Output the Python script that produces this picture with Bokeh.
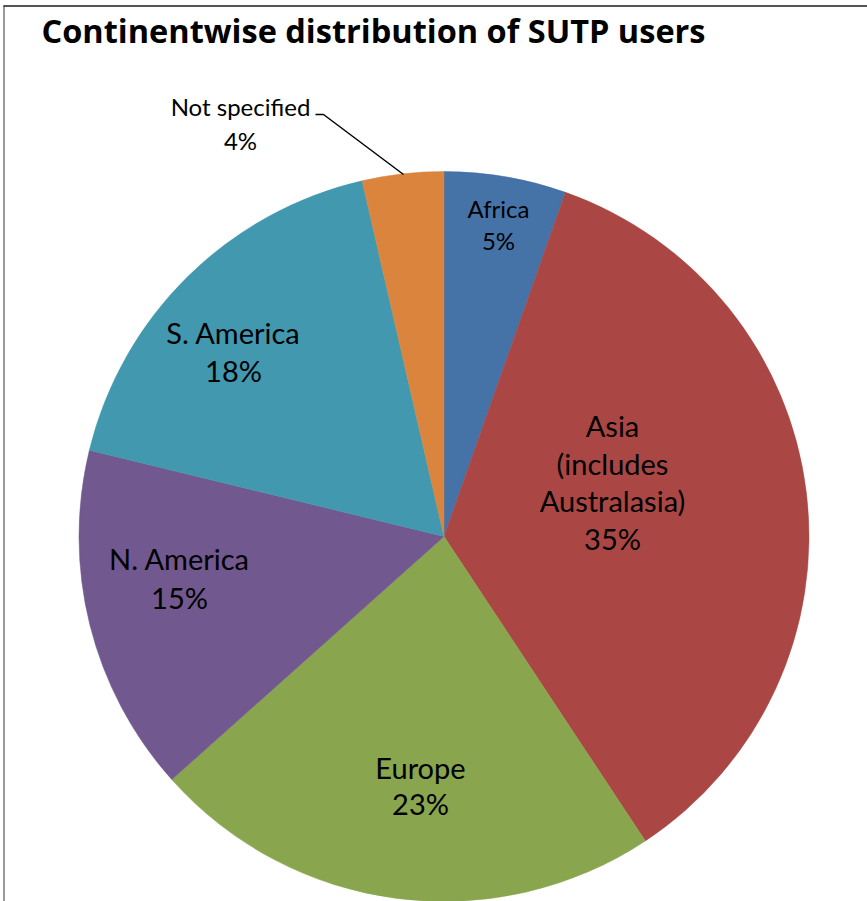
import math
from bokeh.plotting import figure
from bokeh.models import ColumnDataSource, Range1d
from bokeh.core.properties import value
from bokeh.embed import file_html
from bokeh.resources import INLINE

# ---- data ----
categories = ["Africa", "Asia", "Europe", "N. America", "S. America", "Not specified"]
shares = [5.4, 35.3, 22.7, 15.4, 17.6, 3.6]
pct_labels = ["5%", "35%", "23%", "15%", "18%", "4%"]
name_lines = [["Africa"], ["Asia", "(includes", "Australasia)"], ["Europe"],
              ["N. America"], ["S. America"], ["Not specified"]]
colors = ["#4572A7", "#AA4643", "#89A54E", "#71588F", "#4198AF", "#DB843D"]
title_text = "Continentwise distribution of SUTP users"

# ---- layout (screen pixels) ----
W, H = 867, 901
cx, cy_s, R = 443.5, 536, 365
label_anchor = [(498, 208), (612, 425), (420, 767), (179, 558), (233, 332), (240, 106)]
label_step = [32, 37.5, 36, 39, 38, 34]
label_size = [24, 29, 29, 29, 29, 24]
FONT = "Lato"

def sy(y):
    return H - y

p = figure(width=W, height=H, output_backend="svg", toolbar_location=None,
           x_range=Range1d(0, W), y_range=Range1d(0, H),
           min_border=0, background_fill_color="white", border_fill_color="white")
p.axis.visible = False
p.grid.visible = False
p.outline_line_color = None

# wedges
total = sum(shares)
starts, ends = [], []
cum = 0.0
for s in shares:
    starts.append(math.pi / 2 - 2 * math.pi * cum / total)
    cum += s
    ends.append(math.pi / 2 - 2 * math.pi * cum / total)
src = ColumnDataSource(dict(cat=categories, start=starts, end=ends, color=colors))
p.wedge(x=cx, y=sy(cy_s), radius=R, start_angle="start", end_angle="end",
        direction="clock", fill_color="color", line_color="color", line_width=0.5, source=src)

# labels
for i, cat in enumerate(categories):
    lines = name_lines[i] + [pct_labels[i]]
    ax, ay = label_anchor[i]
    xs = [ax] * len(lines)
    ys = [sy(ay + k * label_step[i]) for k in range(len(lines))]
    p.text(x=xs, y=ys, text=lines, text_align="center", text_baseline="middle",
           text_font=value(FONT), text_font_size=f"{label_size[i]}px", text_color="#000000")

# leader line for "Not specified"
lx = [315, 323, 403]
ly = [sy(114), sy(114), sy(174)]
p.line(x=lx, y=ly, line_color="#000000", line_width=1.5)

# title
p.text(x=[41], y=[sy(30)], text=[title_text], text_align="left", text_baseline="middle",
       text_font=value("Open Sans"), text_font_style="bold", text_font_size="32.5px", text_color="#000000")

# frame (top and left edges)
p.line(x=[3, W], y=[sy(5.5), sy(5.5)], line_color="#555555", line_width=2)
p.line(x=[3.5, 3.5], y=[0, sy(5)], line_color="#333333", line_width=1)

open("out.html", "w").write(file_html(p, INLINE))
